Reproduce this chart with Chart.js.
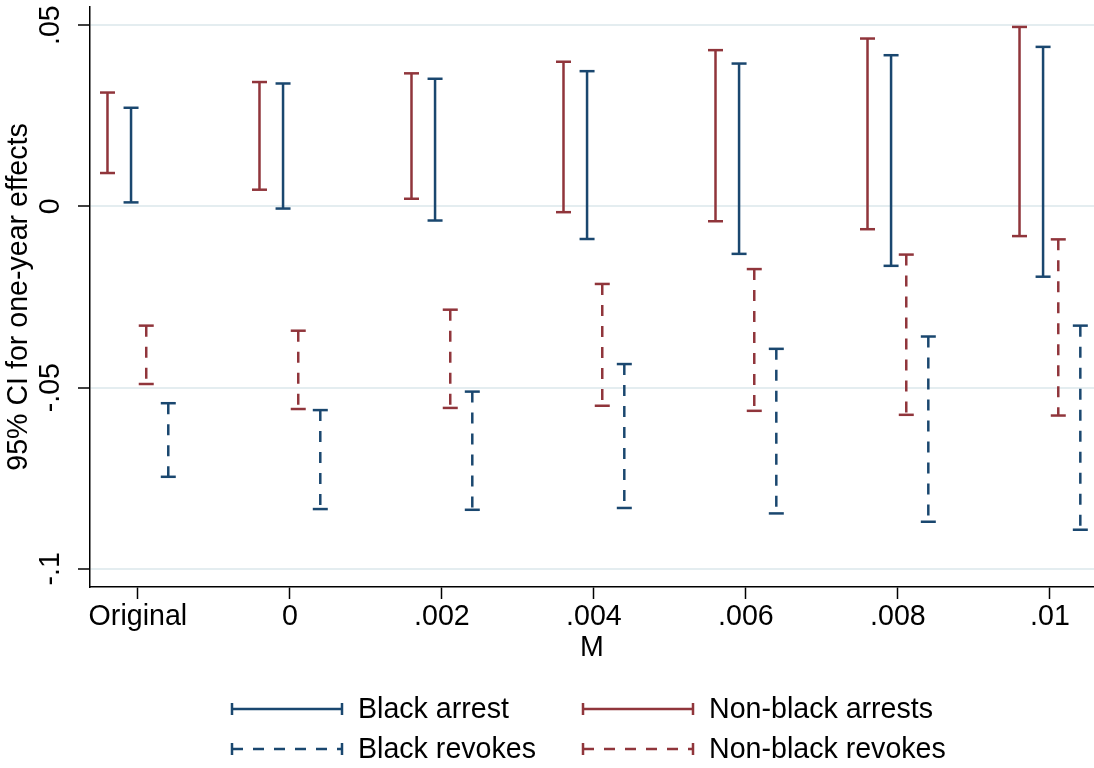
<!DOCTYPE html>
<html>
<head>
<meta charset="utf-8">
<script src="https://cdn.jsdelivr.net/npm/chart.js@4/dist/chart.umd.min.js"></script>
<style>
  body { margin: 0; background: #fff; }
  canvas { display: block; }
</style>
</head>
<body>
<canvas id="ci" width="1094" height="768"></canvas>
<script>
// categories along the x axis
var categories = ['Original', '0', '.002', '.004', '.006', '.008', '.01'];

// 95% CI bounds
var blackArrestLo = [0.0011, -0.0006, -0.0039, -0.0090, -0.0131, -0.0164, -0.0194];
var blackArrestHi = [0.0272, 0.0339, 0.0352, 0.0373, 0.0394, 0.0417, 0.0440];
var nonBlackArrestLo = [0.0092, 0.0046, 0.0021, -0.0016, -0.0041, -0.0063, -0.0082];
var nonBlackArrestHi = [0.0314, 0.0343, 0.0367, 0.0399, 0.0431, 0.0463, 0.0495];
var blackRevokeLo = [-0.0746, -0.0835, -0.0837, -0.0832, -0.0847, -0.0870, -0.0892];
var blackRevokeHi = [-0.0543, -0.0562, -0.0511, -0.0435, -0.0393, -0.0359, -0.0329];
var nonBlackRevokeLo = [-0.0490, -0.0559, -0.0556, -0.0550, -0.0564, -0.0575, -0.0577];
var nonBlackRevokeHi = [-0.0329, -0.0343, -0.0285, -0.0214, -0.0173, -0.0133, -0.0091];

// y axis ticks
var yTicks = [-0.1, -0.05, 0, 0.05];
var yTickLabels = ['-.1', '-.05', '0', '.05'];

var BLUE = '#1a476f';
var RED = '#90353b';
var FONT = { family: "'Liberation Sans', Arial, sans-serif", size: 28.6 };

// each interval becomes two points (top first, so dashes start at the top cap), then a gap
function rangePoints(lo, hi, shift) {
    var pts = [];
    for (var i = 0; i < lo.length; ++i) {
        pts.push({ x: i + shift, y: hi[i] });
        pts.push({ x: i + shift, y: lo[i] });
        pts.push({ x: i + shift, y: null });
    }
    return pts;
}

function rangeSet(label, lo, hi, shift, color, dashed) {
    return {
        label: label,
        data: rangePoints(lo, hi, shift),
        borderColor: color,
        backgroundColor: color,
        borderWidth: 2.5,
        borderDash: dashed ? [11, 10] : [],
        pointStyle: 'line',
        pointRadius: 7.5,
        pointHoverRadius: 7.5,
        pointBorderWidth: 2.5,
        pointBorderColor: color,
        spanGaps: false,
        fill: false,
        tension: 0
    };
}

// no automatic padding for overhanging tick labels
function noPad(s) {
    s.paddingTop = 0;
    s.paddingBottom = 0;
    s.paddingLeft = 0;
    s.paddingRight = 0;
}

// legend drawn as stata-like range caps, two columns
var capLegend = {
    id: 'capLegend',
    afterDraw: function (chart) {
        var c = chart.ctx;
        var cols = [232, 583];
        var rows = [709, 749];
        chart.data.datasets.forEach(function (ds, i) {
            var x0 = cols[i % 2], y = rows[Math.floor(i / 2)];
            var x1 = x0 + 110;
            c.save();
            c.strokeStyle = ds.borderColor;
            c.lineWidth = 2.5;
            c.setLineDash(ds.borderDash);
            c.beginPath();
            c.moveTo(x0, y);
            c.lineTo(x1, y);
            c.stroke();
            c.setLineDash([]);
            c.beginPath();
            c.moveTo(x0, y - 6);
            c.lineTo(x0, y + 6);
            c.moveTo(x1, y - 6);
            c.lineTo(x1, y + 6);
            c.stroke();
            c.fillStyle = '#000';
            c.font = FONT.size + 'px ' + FONT.family;
            c.textBaseline = 'middle';
            c.textAlign = 'left';
            c.fillText(ds.label, x0 + 126, y + 1);
            c.restore();
        });
    }
};

var ctx = document.getElementById('ci');
window.ciChart = new Chart(ctx, {
    type: 'line',
    data: {
        datasets: [
            rangeSet('Black arrest', blackArrestLo, blackArrestHi, -0.045, BLUE, false),
            rangeSet('Non-black arrests', nonBlackArrestLo, nonBlackArrestHi, -0.2, RED, false),
            rangeSet('Black revokes', blackRevokeLo, blackRevokeHi, 0.2, BLUE, true),
            rangeSet('Non-black revokes', nonBlackRevokeLo, nonBlackRevokeHi, 0.055, RED, true)
        ]
    },
    options: {
        responsive: false,
        animation: false,
        events: [],
        layout: { autoPadding: false, padding: { top: 7, right: 0, bottom: 101, left: 0 } },
        plugins: {
            legend: { display: false },
            tooltip: { enabled: false }
        },
        scales: {
            x: {
                type: 'linear',
                min: -0.315,
                max: 6.29,
                afterBuildTicks: function (s) {
                    s.ticks = categories.map(function (c, i) { return { value: i }; });
                },
                afterFit: function (s) { s.height = 80; noPad(s); },
                ticks: {
                    callback: function (v) { return categories[v]; },
                    font: FONT,
                    color: '#000',
                    padding: 1,
                    maxRotation: 0,
                    autoSkip: false
                },
                grid: { drawOnChartArea: false, tickLength: 12, tickColor: '#000', tickWidth: 1.5 },
                border: { color: '#000', width: 1.5 },
                title: { display: true, text: 'M', font: FONT, color: '#000', padding: { top: 0, bottom: 2 } }
            },
            y: {
                min: -0.105,
                max: 0.055,
                afterBuildTicks: function (s) {
                    s.ticks = yTicks.map(function (v) { return { value: v }; });
                },
                afterFit: function (s) { s.width = 90; noPad(s); },
                ticks: {
                    callback: function (v) { return yTickLabels[yTicks.indexOf(v)]; },
                    font: FONT,
                    color: '#000',
                    minRotation: 90,
                    maxRotation: 90,
                    crossAlign: 'center',
                    padding: 2
                },
                grid: { color: '#e4edf0', lineWidth: 2, tickLength: 12, tickColor: '#000', tickWidth: 1.5 },
                border: { color: '#000', width: 1.5 },
                title: { display: true, text: '95% CI for one-year effects', font: FONT, color: '#000', padding: { top: 2, bottom: 0 } }
            }
        }
    },
    plugins: [capLegend]
});
</script>
</body>
</html>
